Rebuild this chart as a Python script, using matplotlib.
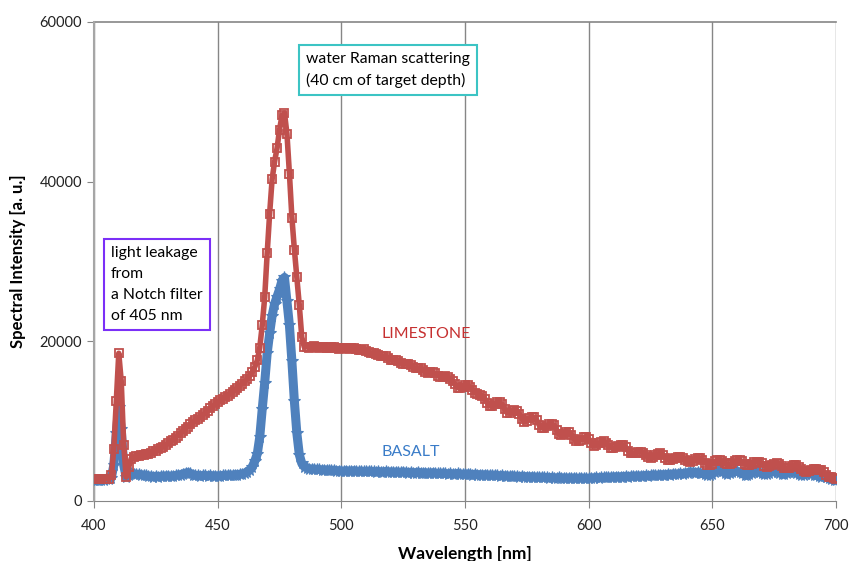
import matplotlib.pyplot as plt
import numpy as np

plt.rcParams['font.family'] = ['Lato', 'DejaVu Sans']

# wavelength grid [nm], one reading per nm
wavelength = np.arange(400, 701)

limestone = [
    2700, 2700, 2750, 2700, 2750, 2800, 2800, 3200, 6500, 12500,   # 400-409
    18500, 15000, 7000, 3000, 4200, 5300, 5500, 5600, 5650, 5700,  # 410-419
    5800, 5850, 5900, 6000, 6200, 6300, 6500, 6650, 6800, 7000,    # 420-429
    7200, 7450, 7700, 7950, 8200, 8500, 8800, 9050, 9300, 9600,    # 430-439
    9850, 10100, 10300, 10550, 10800, 11000, 11300, 11600, 11850, 12100,  # 440-449
    12400, 12600, 12800, 13000, 13200, 13450, 13700, 13900, 14200, 14450,  # 450-459
    14700, 15000, 15300, 15700, 16200, 16800, 17600, 19200, 22000, 25500,  # 460-469
    31000, 36000, 40300, 42500, 44200, 46500, 48300, 48600, 46000, 41000,  # 470-479
    35500, 31500, 28000, 24500, 20500, 19300, 19300, 19200, 19350, 19400,  # 480-489
    19250, 19200, 19300, 19350, 19200, 19100, 19250, 19300, 19150, 19000,  # 490-499
    19100, 19200, 19150, 19050, 19100, 19150, 19000, 18900, 18950, 19000,  # 500-509
    18800, 18600, 18500, 18550, 18450, 18250, 18100, 18150, 18100, 17900,  # 510-519
    17700, 17650, 17700, 17550, 17300, 17150, 17200, 17200, 17000, 16750,  # 520-529
    16600, 16650, 16650, 16450, 16200, 16050, 16100, 16150, 16000, 15700,  # 530-539
    15500, 15550, 15650, 15550, 15300, 15000, 14600, 14200, 14100, 14300,  # 540-549
    14500, 14500, 14300, 13950, 13550, 13350, 13300, 13200, 12800, 12300,  # 550-559
    11900, 11850, 12100, 12350, 12400, 12100, 11500, 11050, 11000, 11250,  # 560-569
    11400, 11300, 10850, 10300, 9950, 10000, 10350, 10550, 10500, 10100,   # 570-579
    9500, 9150, 9100, 9350, 9650, 9700, 9500, 8900, 8350, 8250,            # 580-589
    8450, 8650, 8650, 8300, 7800, 7450, 7450, 7700, 8000, 8050,            # 590-599
    7800, 7200, 6900, 6950, 7200, 7400, 7450, 7300, 6950, 6650,            # 600-609
    6600, 6700, 6900, 7000, 7000, 6700, 6250, 5980, 5950, 6050,            # 610-619
    6150, 6180, 6050, 5750, 5450, 5340, 5450, 5700, 5900, 5970,            # 620-629
    5800, 5400, 5180, 5140, 5250, 5400, 5520, 5550, 5400, 5150,            # 630-639
    4950, 4920, 5050, 5250, 5340, 5340, 5150, 4800, 4550, 4510,            # 640-649
    4650, 4950, 5140, 5140, 5000, 4750, 4600, 4590, 4700, 4950,            # 650-659
    5100, 5140, 4950, 4650, 4510, 4520, 4650, 4850, 4920, 4900,            # 660-669
    4700, 4420, 4300, 4320, 4500, 4680, 4720, 4650, 4400, 4150,            # 670-679
    4090, 4150, 4350, 4510, 4500, 4300, 4000, 3750, 3670, 3700,            # 680-689
    3850, 3950, 3950, 3900, 3880, 3600, 3200, 3050, 3000, 2850,            # 690-699
    2800,                                                                  # 700
]

basalt = [
    2600, 2600, 2650, 2600, 2650, 2700, 2700, 2900, 4500, 8500,    # 400-409
    11800, 9000, 4500, 3000, 3300, 3450, 3400, 3350, 3350, 3300,   # 410-419
    3250, 3200, 3150, 3100, 3050, 3100, 3050, 3100, 3100, 3150,    # 420-429
    3150, 3100, 3150, 3200, 3250, 3300, 3400, 3500, 3550, 3450,    # 430-439
    3300, 3200, 3200, 3150, 3200, 3200, 3150, 3200, 3150, 3150,    # 440-449
    3150, 3150, 3200, 3200, 3250, 3250, 3250, 3300, 3300, 3350,    # 450-459
    3400, 3500, 3650, 3900, 4300, 5000, 5900, 8000, 11500, 14800,  # 460-469
    18500, 21000, 23200, 24700, 25600, 26500, 27600, 28000, 25000, 22000,  # 470-479
    17500, 12500, 8500, 5800, 4700, 4300, 4150, 4050, 4000, 4000,  # 480-489
    3950, 3950, 3900, 3900, 3900, 3850, 3850, 3850, 3800, 3800,    # 490-499
    3750, 3750, 3800, 3750, 3750, 3800, 3750, 3700, 3750, 3700,    # 500-509
    3700, 3750, 3700, 3700, 3650, 3700, 3650, 3650, 3700, 3650,    # 510-519
    3650, 3600, 3650, 3600, 3600, 3650, 3600, 3550, 3600, 3550,    # 520-529
    3550, 3600, 3550, 3500, 3550, 3500, 3500, 3550, 3500, 3450,    # 530-539
    3450, 3500, 3450, 3400, 3450, 3400, 3400, 3450, 3400, 3350,    # 540-549
    3350, 3400, 3350, 3300, 3350, 3300, 3300, 3250, 3300, 3250,    # 550-559
    3250, 3200, 3250, 3200, 3150, 3200, 3150, 3150, 3100, 3150,    # 560-569
    3100, 3100, 3050, 3100, 3050, 3050, 3000, 3050, 3000, 3000,    # 570-579
    2950, 3000, 2950, 2950, 2900, 2950, 2900, 2900, 2950, 2900,    # 580-589
    2900, 2850, 2900, 2850, 2900, 2850, 2850, 2900, 2850, 2850,    # 590-599
    2850, 2900, 2900, 2950, 2900, 2950, 2950, 3000, 2950, 3000,    # 600-609
    3000, 3050, 3000, 3050, 3050, 3100, 3050, 3100, 3100, 3150,    # 610-619
    3100, 3150, 3150, 3200, 3150, 3200, 3250, 3250, 3200, 3300,    # 620-629
    3300, 3250, 3350, 3300, 3400, 3350, 3400, 3450, 3400, 3500,    # 630-639
    3500, 3650, 3600, 3550, 3600, 3500, 3450, 3350, 3300, 3260,    # 640-649
    3400, 3600, 3800, 3850, 3700, 3500, 3400, 3450, 3600, 3700,    # 650-659
    3700, 3650, 3450, 3300, 3260, 3350, 3500, 3650, 3700, 3600,    # 660-669
    3450, 3350, 3400, 3550, 3650, 3700, 3670, 3550, 3400, 3350,    # 670-679
    3450, 3600, 3700, 3650, 3500, 3350, 3250, 3300, 3400, 3450,    # 680-689
    3400, 3300, 3200, 3100, 3050, 3100, 3000, 2850, 2700, 2650,    # 690-699
    2600,                                                          # 700
]

red = '#C0504D'
blue = '#4F81BD'

fig = plt.figure(figsize=(8.51, 5.61), dpi=100)
ax = fig.add_axes([0.1105, 0.107, 0.8719, 0.8538])

ax.plot(wavelength, basalt, color=blue, linewidth=6.5, marker='*',
        markersize=8.5, markeredgewidth=0.8, zorder=3)
ax.plot(wavelength, limestone, color=red, linewidth=4, marker='s',
        markersize=5.5, markerfacecolor='none', markeredgewidth=1.3, zorder=4)

ax.set(xlim=(400, 700), xticks=np.arange(400, 701, 50),
       ylim=(0, 60000), yticks=np.arange(0, 60001, 20000))

# vertical gridlines + top line
ax.grid(axis='x', color='#868686', linewidth=1)
ax.axhline(60000, color='#868686', linewidth=1.2, clip_on=False)
ax.set_axisbelow(True)

for s in ['top', 'right']:
    ax.spines[s].set_visible(False)
ax.spines['left'].set_color('#A6A6A6')
ax.spines['left'].set_linewidth(1.5)
ax.spines['bottom'].set_color('#868686')
ax.tick_params(axis='both', direction='out', length=5, color='#868686',
               labelsize=10.5, labelcolor='#222222')
ax.tick_params(axis='x', pad=8)

ax.set_xlabel('Wavelength [nm]', fontsize=12.5, fontweight='bold', labelpad=9)
ax.set_ylabel('Spectral Intensity [a. u.]', fontsize=12, fontweight='bold',
              labelpad=10)

ax.text(516.4, 20900, 'LIMESTONE', color='#C63030', fontsize=11.5,
        va='center', ha='left')
ax.text(516.4, 6150, 'BASALT', color='#3A7CC8', fontsize=11.5,
        va='center', ha='left')

ax.text(406.9, 31900, 'light leakage\nfrom\na Notch filter\nof 405 nm',
        fontsize=11.3, va='top', ha='left', linespacing=1.62, zorder=6,
        bbox=dict(boxstyle='square,pad=0.45', facecolor='white',
                  edgecolor='#7B2FF7', linewidth=1.5))
ax.text(485.7, 56200, 'water Raman scattering\n(40 cm of target depth)',
        fontsize=11.3, va='top', ha='left', linespacing=1.55, zorder=6,
        bbox=dict(boxstyle='square,pad=0.45', facecolor='white',
                  edgecolor='#3CC4C4', linewidth=1.5))

fig.savefig('out.png', dpi=100)
